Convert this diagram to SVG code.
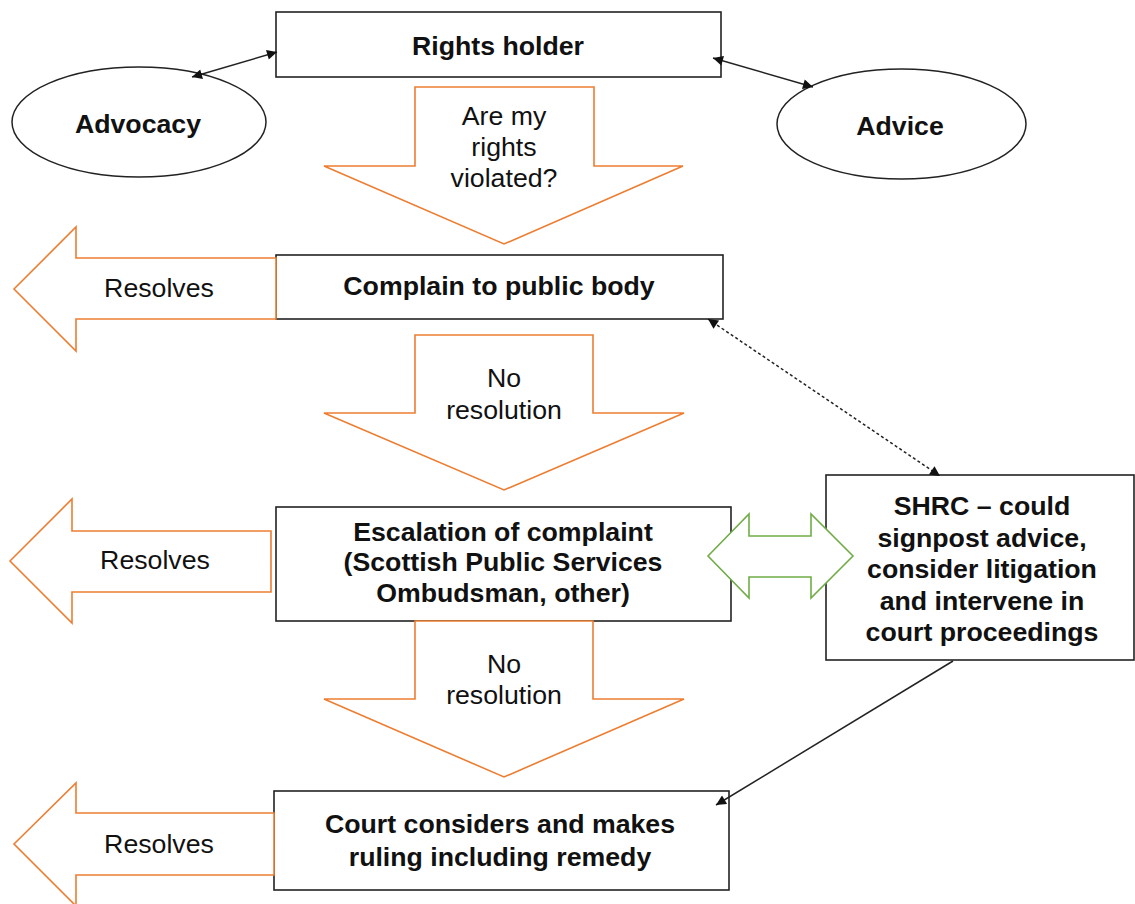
<svg xmlns="http://www.w3.org/2000/svg" width="1135" height="904" viewBox="0 0 1135 904">
<style>
text{font-family:"Liberation Sans",Arial,sans-serif;font-size:26.7px;fill:#111;text-anchor:middle}
.b{font-weight:bold}
.box{fill:#fff;stroke:#222;stroke-width:1.6}
.ell{fill:#fff;stroke:#222;stroke-width:1.5}
.or{fill:#fff;stroke:#ED7D31;stroke-width:1.6;stroke-linejoin:miter}
.gr{fill:#fff;stroke:#70AD47;stroke-width:1.6}
.ln{fill:none;stroke:#222;stroke-width:1.5}
.dash{stroke-dasharray:3 2.5}
</style>
<defs>
<marker id="ah" viewBox="0 0 10 10" refX="10" refY="5" markerWidth="13" markerHeight="10" markerUnits="userSpaceOnUse" orient="auto-start-reverse">
<path d="M0,0 L10,5 L0,10 z" fill="#111"/>
</marker>
</defs>
<g id="rights-holder"><rect class="box" x="276" y="12" width="445" height="65"/><text class="b" x="498" y="55">Rights holder</text></g>
<g id="advocacy"><ellipse class="ell" cx="139" cy="122" rx="127" ry="55"/><text class="b" x="138" y="133">Advocacy</text></g>
<g id="advice"><ellipse class="ell" cx="901.5" cy="124" rx="124.5" ry="55"/><text class="b" x="900" y="135">Advice</text></g>
<g id="arrow-violated"><polygon class="or" points="415,87 594,87 594,166 683,166 504,244 324,166 415,166"/><text x="504" y="125">Are my</text><text x="504" y="156">rights</text><text x="504" y="187">violated?</text></g>
<g id="complain"><rect class="box" x="276" y="255" width="447" height="64"/><text class="b" x="499" y="295">Complain to public body</text></g>
<g id="resolves-1"><polygon class="or" points="14,289 76,227 76,258 276,258 276,319 76,319 76,351"/><text x="159" y="297">Resolves</text></g>
<g id="arrow-noresolution-1"><polygon class="or" points="415,335 593,335 593,413 684,413 504,490 324,413 415,413"/><text x="504" y="387">No</text><text x="504" y="419">resolution</text></g>
<g id="escalation"><rect class="box" x="276" y="507" width="455" height="114"/><text class="b" x="503" y="541">Escalation of complaint</text><text class="b" x="503" y="571">(Scottish Public Services</text><text class="b" x="503" y="602">Ombudsman, other)</text></g>
<g id="resolves-2"><polygon class="or" points="10,561 72,499 72,531 271,531 271,592 72,592 72,623"/><text x="155" y="569">Resolves</text></g>
<g id="shrc"><rect class="box" x="826" y="475" width="308" height="185"/><text class="b" x="982" y="515">SHRC – could</text><text class="b" x="982" y="546.5">signpost advice,</text><text class="b" x="982" y="578">consider litigation</text><text class="b" x="982" y="609.5">and intervene in</text><text class="b" x="982" y="641">court proceedings</text></g>
<g id="arrow-noresolution-2"><polygon class="or" points="415,621 593,621 593,699 684,699 504,777 324,699 415,699"/><text x="504" y="673">No</text><text x="504" y="704">resolution</text></g>
<g id="court"><rect class="box" x="274" y="791" width="455" height="99"/><text class="b" x="500" y="833">Court considers and makes</text><text class="b" x="500" y="866">ruling including remedy</text></g>
<g id="resolves-3"><polygon class="or" points="14,844 76,783 76,813 274,813 274,875 76,875 76,906"/><text x="159" y="853">Resolves</text></g>
<g id="escalation-shrc-arrow"><polygon class="gr" points="708,556 749,514 749,536 811,536 811,514 853,556 811,598 811,577 749,577 749,598"/></g>
<g id="connectors">
<line class="ln" x1="192" y1="77" x2="277" y2="52" marker-start="url(#ah)" marker-end="url(#ah)"/>
<line class="ln" x1="713" y1="58" x2="813" y2="87" marker-start="url(#ah)" marker-end="url(#ah)"/>
<line class="ln dash" x1="708" y1="319" x2="940" y2="476" marker-start="url(#ah)" marker-end="url(#ah)"/>
<line class="ln" x1="953" y1="661" x2="716" y2="805" marker-end="url(#ah)"/>
</g>
</svg>
